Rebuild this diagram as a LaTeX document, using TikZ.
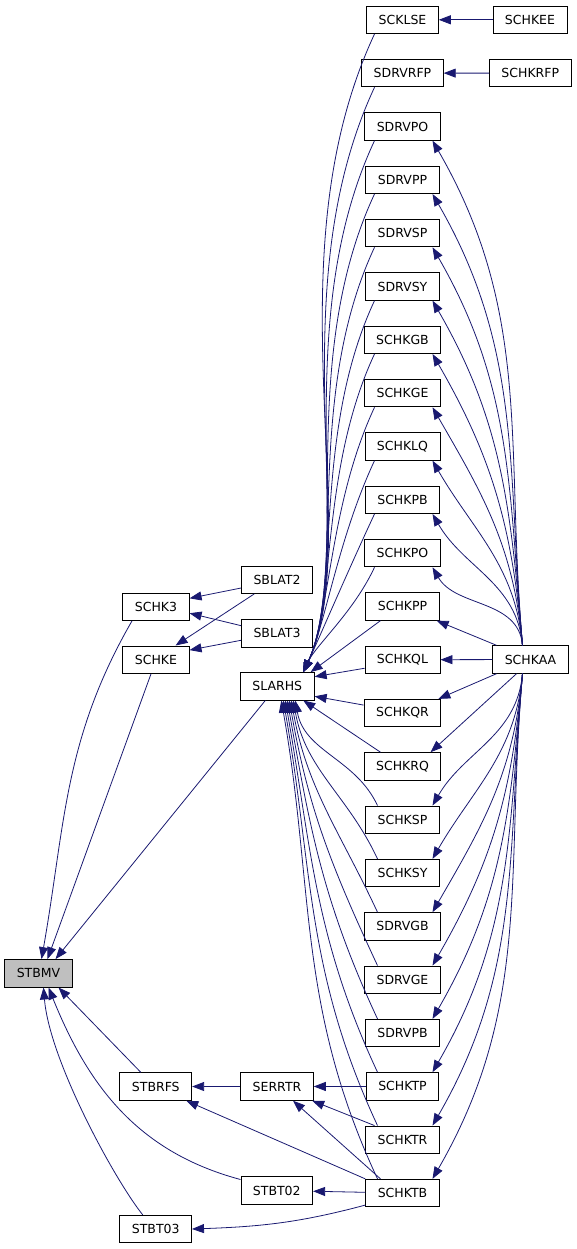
\documentclass[tikz,border=0pt]{standalone}
\usepackage{fontspec}
\setmainfont{DejaVu Sans}
\usetikzlibrary{arrows.meta}
\definecolor{edgeblue}{RGB}{25,25,112}
\definecolor{rootgray}{RGB}{191,191,191}

\begin{document}
\begin{tikzpicture}[x=1pt,y=1pt,
  box/.style={draw=black,line width=0.9pt,fill=white,minimum height=27.5pt,inner xsep=12pt,inner ysep=0pt,font=\fontsize{12.5}{14}\selectfont},
  edge/.style={edgeblue,line width=0.8pt,-{Triangle[length=12pt,width=9pt]}}]
\useasboundingbox (0,0) rectangle (576,-1249);

\node[box,fill=rootgray] (STBMV) at (38.5,-973.3) {STBMV};
\node[box] (SCHK3) at (156,-606.7) {SCHK3};
\node[box] (SCHKE) at (156,-659.7) {SCHKE};
\node[box] (SBLAT2) at (277,-579.7) {SBLAT2};
\node[box] (SBLAT3) at (277,-633.3) {SBLAT3};
\node[box] (SLARHS) at (277.3,-686.3) {SLARHS};
\node[box] (STBRFS) at (155.8,-1086.5) {STBRFS};
\node[box] (SERRTR) at (277,-1086.5) {SERRTR};
\node[box] (STBT02) at (276.8,-1190.5) {STBT02};
\node[box] (STBT03) at (155.7,-1229) {STBT03};
\node[box] (SCHKAA) at (530.5,-659.5) {SCHKAA};
\node[box] (SCHKEE) at (530,-19.8) {SCHKEE};
\node[box] (SCHKRFP) at (530.3,-73.1) {SCHKRFP};

\foreach \name [count=\i from 0] in {SCKLSE,SDRVRFP,SDRVPO,SDRVPP,SDRVSP,SDRVSY,SCHKGB,SCHKGE,SCHKLQ,SCHKPB,SCHKPO,SCHKPP,SCHKQL,SCHKQR,SCHKRQ,SCHKSP,SCHKSY,SDRVGB,SDRVGE,SDRVPB,SCHKTP,SCHKTR,SCHKTB}
  \node[box] (\name) at (402.5,{-19.8-53.33*\i}) {\name};

\draw[edge] ([xshift=-24]SCHK3.south) to[out=-120,in=80] ([xshift=3]STBMV.north);
\draw[edge] ([xshift=-5]SCHKE.south) -- ([xshift=9]STBMV.north);
\draw[edge] ([xshift=-12]SLARHS.south) -- ([xshift=17]STBMV.north);
\draw[edge] ([xshift=-15]STBRFS.north) -- ([xshift=20]STBMV.south);
\draw[edge] ([yshift=11]STBT02.west) to[out=165,in=-68] ([xshift=10]STBMV.south);
\draw[edge] ([xshift=-13]STBT03.north) .. controls +(-28,35) and +(6,-73) .. ([xshift=5]STBMV.south);

\draw[edge] (SBLAT2.193) -- (SCHK3.14);
\draw[edge] (SBLAT3.168) -- (SCHK3.-11);
\draw[edge] (SBLAT2.212) -- (SCHKE.36);
\draw[edge] (SBLAT3.191) -- (SCHKE.16);

\draw[edge] (SCHKEE) -- (SCKLSE);
\draw[edge] (SCHKRFP) -- (SDRVRFP);

\foreach \name in {SCKLSE,SDRVRFP,SDRVPO,SDRVPP,SDRVSP,SDRVSY,SCHKGB,SCHKGE,SCHKLQ,SCHKPB,SCHKPO}
  \draw[edge] ([xshift=-28]\name.south) to[out=-115,in=65,in looseness=0.6] ([xshift=26]SLARHS.north);
\draw[edge] ([xshift=-22]SCHKPP.south) -- ([xshift=-4]SLARHS.north east);
\draw[edge] ([yshift=-8.5]SCHKQL.west) -- ([yshift=9.6]SLARHS.east);
\draw[edge] ([yshift=8]SCHKQR.west) -- ([yshift=-10]SLARHS.east);
\draw[edge] ([xshift=-22]SCHKRQ.north) -- ([xshift=26]SLARHS.south);
\foreach \name/\s in {SCHKSP/18,SCHKSY/16,SDRVGB/14,SDRVGE/12,SDRVPB/10,SCHKTP/8,SCHKTR/6,SCHKTB/4}
  \draw[edge] ([xshift=-25]\name.north) to[out=115,in=-80] ([xshift=\s]SLARHS.south);

\foreach \name in {SDRVPO,SDRVPP,SDRVSP,SDRVSY,SCHKGB,SCHKGE,SCHKLQ,SCHKPB,SCHKPO}
  \draw[edge] ([xshift=-8]SCHKAA.north) to[out=95,in=-60] ([xshift=30]\name.south);
\draw[edge] ([xshift=-34]SCHKAA.north) -- ([xshift=-3]SCHKPP.south east);
\draw[edge] (SCHKAA) -- (SCHKQL);
\draw[edge] ([xshift=-34]SCHKAA.south) -- ([xshift=-3]SCHKQR.north east);
\draw[edge] ([xshift=-14]SCHKAA.south) -- ([xshift=28]SCHKRQ.north);
\foreach \name in {SCHKSP,SCHKSY,SDRVGB,SDRVGE,SDRVPB,SCHKTP,SCHKTR,SCHKTB}
  \draw[edge] ([xshift=-8]SCHKAA.south) to[out=-95,in=60] ([xshift=30]\name.north);

\draw[edge] (SERRTR) -- (STBRFS);
\draw[edge] (SCHKTP) -- (SERRTR);
\draw[edge] ([xshift=-28]SCHKTR.north) -- (SERRTR.-22);
\draw[edge] ([xshift=-22]SCHKTB.north) -- ([xshift=16]SERRTR.south);
\draw[edge] (SCHKTB.north west) -- (STBRFS.-25);
\draw[edge] (SCHKTB) -- (STBT02);
\draw[edge] ([yshift=-12]SCHKTB.west) to[out=195,in=2] (STBT03.east);

\end{tikzpicture}
\end{document}
